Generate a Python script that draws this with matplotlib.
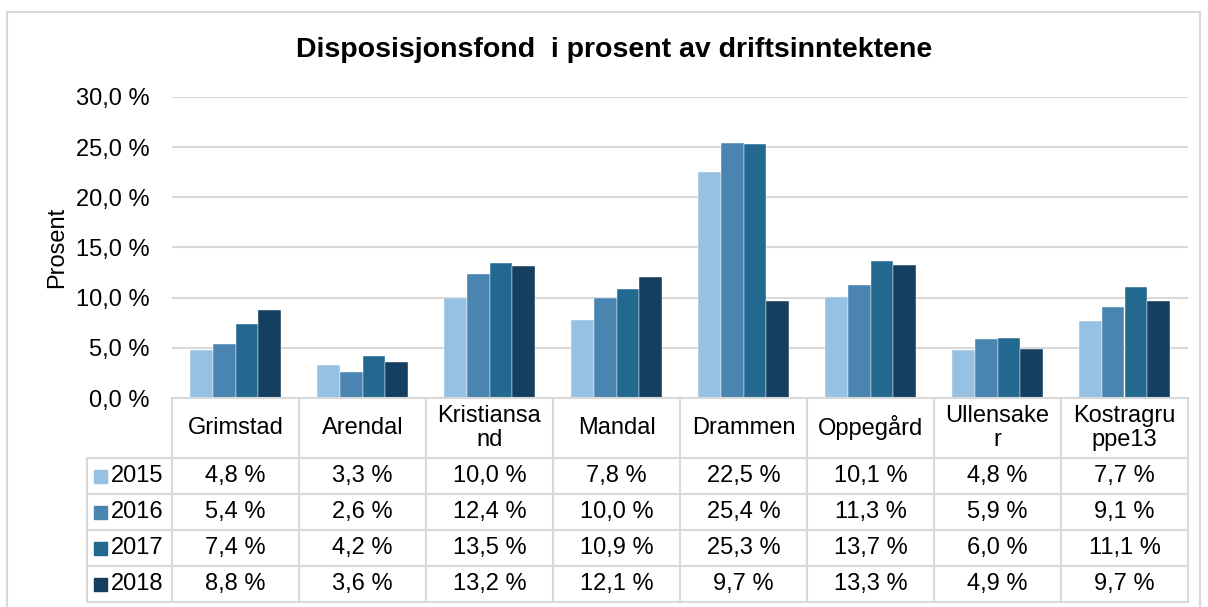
import matplotlib
matplotlib.use("Agg")
import matplotlib.pyplot as plt
from matplotlib.lines import Line2D
from matplotlib.patches import Rectangle
import numpy as np

categories = ["Grimstad", "Arendal", "Kristiansa\nnd", "Mandal", "Drammen",
              "Oppegård", "Ullensake\nr", "Kostragru\nppe13"]
years = ["2015", "2016", "2017", "2018"]
v2015 = [4.8, 3.3, 10.0, 7.8, 22.5, 10.1, 4.8, 7.7]
v2016 = [5.4, 2.6, 12.4, 10.0, 25.4, 11.3, 5.9, 9.1]
v2017 = [7.4, 4.2, 13.5, 10.9, 25.3, 13.7, 6.0, 11.1]
v2018 = [8.8, 3.6, 13.2, 12.1, 9.7, 13.3, 4.9, 9.7]
series = [v2015, v2016, v2017, v2018]
colors = ["#97C1E3", "#4A84B1", "#22688F", "#153F60"]
yticks = [0, 5, 10, 15, 20, 25, 30]

plt.rcParams['font.family'] = ['Liberation Sans', 'DejaVu Sans']

W, H = 1208, 607
fig = plt.figure(figsize=(W / 100, H / 100), dpi=100)
FS = 17

def fx(px):
    return px / W

def fy(py):
    return 1 - py / H

grid_c = "#D9D9D9"

# outer border
fig.add_artist(Rectangle((fx(7), fy(640)), fx(1200) - fx(7), fy(12) - fy(640),
                         transform=fig.transFigure, fill=False, edgecolor=grid_c, lw=1.5))

x0, x1 = 172, 1188
yt, yb = 97, 398
ax = fig.add_axes([fx(x0), fy(yb), fx(x1) - fx(x0), fy(yt) - fy(yb)])
n = len(categories)
x = np.arange(n)
bw = 0.18
for i, (vals, c) in enumerate(zip(series, colors)):
    ax.bar(x + (i - 1.5) * bw, vals, width=bw, color=c, edgecolor="#FFFFFF", linewidth=0.3, zorder=3)
ax.set_xlim(-0.5, n - 0.5)
ax.set_ylim(0, 30)
ax.set_yticks(yticks)
ax.set_yticklabels([f"{t:.1f} %".replace(".", ",") for t in yticks], fontsize=FS)
ax.set_xticks([])
ax.tick_params(axis="y", length=0, pad=16)
ax.grid(axis="y", color=grid_c, lw=1.5, zorder=0)
for s in ax.spines.values():
    s.set_visible(False)
ax.set_ylabel("Prosent", fontsize=FS)
ax.yaxis.set_label_coords(-(172 - 68) / (x1 - x0), 0.5)

fig.text(fx(614), fy(50), "Disposisjonsfond  i prosent av driftsinntektene",
         fontsize=20.5, fontweight="bold", ha="center", va="center")

# data table
cw = (x1 - x0) / n
row_y = [458, 494, 530, 566, 602]
lx = 87

def hline(y, xa, xb):
    fig.add_artist(Line2D([fx(xa), fx(xb)], [fy(y), fy(y)], color=grid_c, lw=1.5,
                          transform=fig.transFigure))

def vline(xp, ya, yb_):
    fig.add_artist(Line2D([fx(xp), fx(xp)], [fy(ya), fy(yb_)], color=grid_c, lw=1.5,
                          transform=fig.transFigure))

hline(yb, x0, x1)
for ry in row_y:
    hline(ry, lx, x1)
for k in range(n + 1):
    vline(x0 + k * cw, yb, row_y[-1])
vline(lx, row_y[0], row_y[-1])

for k, cat in enumerate(categories):
    fig.text(fx(x0 + (k + 0.5) * cw), fy((yb + row_y[0]) / 2), cat, fontsize=FS,
             ha="center", va="center", linespacing=1.12)

for r, (yr, vals, c) in enumerate(zip(years, series, colors)):
    cy = (row_y[r] + row_y[r + 1]) / 2
    fig.add_artist(Rectangle((fx(94), fy(cy + 6.5)), fx(13), 13 / H,
                             transform=fig.transFigure, color=c))
    fig.text(fx(111), fy(cy), yr, fontsize=FS, ha="left", va="center")
    for k, v in enumerate(vals):
        fig.text(fx(x0 + (k + 0.5) * cw), fy(cy), f"{v:.1f} %".replace(".", ","),
                 fontsize=FS, ha="center", va="center")

fig.savefig("out.png", dpi=100)
